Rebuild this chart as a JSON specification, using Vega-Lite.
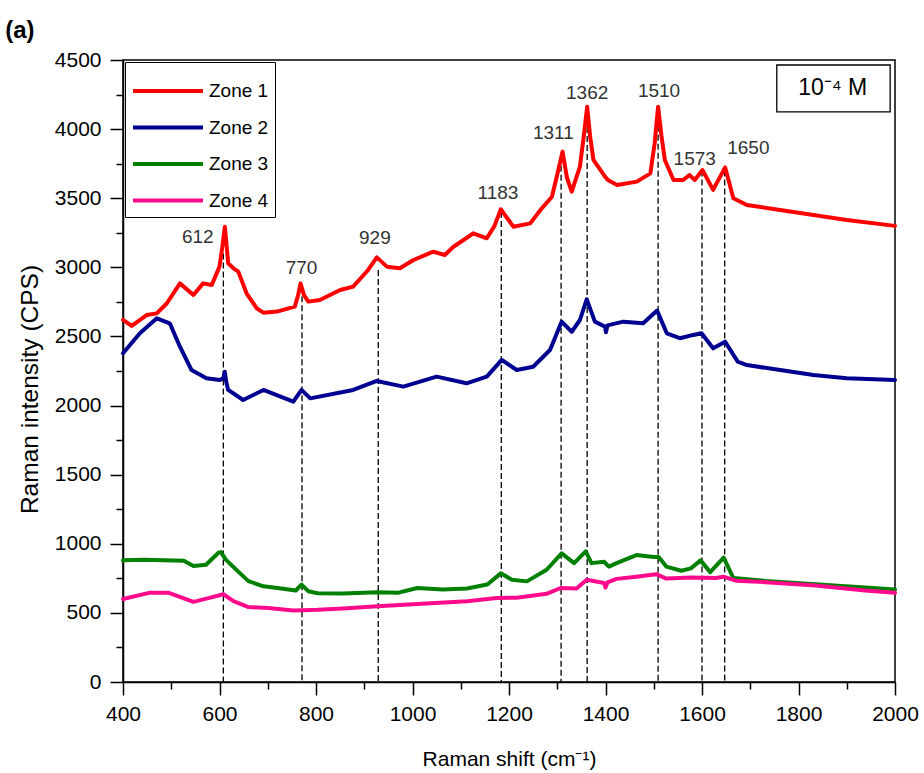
{
  "$schema": "https://vega.github.io/schema/vega-lite/v6.json",
  "width": 772,
  "height": 622,
  "autosize": {"type": "none"},
  "padding": {"left": 123, "top": 60, "right": 29, "bottom": 91},
  "background": "white",
  "title": {"text": "(a)", "anchor": "start", "frame": "bounds", "fontSize": 24, "fontWeight": "bold", "font": "Liberation Sans", "color": "black", "offset": 6, "dx": -12},
  "config": {
    "view": {"stroke": "black", "strokeWidth": 1.5},
    "axis": {"grid": false, "ticks": true, "domainColor": "black", "domainWidth": 1.5, "tickColor": "black", "tickWidth": 1.5, "tickSize": 13, "labelFont": "Liberation Sans", "labelFontSize": 21, "labelColor": "black", "titleFont": "Liberation Sans", "titleFontWeight": "normal", "titleColor": "black", "labelFlush": false, "labelOverlap": false}
  },
  "resolve": {"axis": {"x": "independent", "y": "independent"}},
  "datasets": {
    "spectra": [
      {"zone": "Zone 1", "shift": 400, "intensity": 2620}, {"zone": "Zone 1", "shift": 418, "intensity": 2576}, {"zone": "Zone 1", "shift": 449, "intensity": 2655}, {"zone": "Zone 1", "shift": 470, "intensity": 2667}, {"zone": "Zone 1", "shift": 491, "intensity": 2740}, {"zone": "Zone 1", "shift": 518, "intensity": 2884}, {"zone": "Zone 1", "shift": 546, "intensity": 2800}, {"zone": "Zone 1", "shift": 566, "intensity": 2884}, {"zone": "Zone 1", "shift": 584, "intensity": 2872}, {"zone": "Zone 1", "shift": 600, "intensity": 3005}, {"zone": "Zone 1", "shift": 606, "intensity": 3150}, {"zone": "Zone 1", "shift": 611, "intensity": 3294}, {"zone": "Zone 1", "shift": 615, "intensity": 3150}, {"zone": "Zone 1", "shift": 618, "intensity": 3029}, {"zone": "Zone 1", "shift": 629, "intensity": 2993}, {"zone": "Zone 1", "shift": 639, "intensity": 2969}, {"zone": "Zone 1", "shift": 656, "intensity": 2812}, {"zone": "Zone 1", "shift": 677, "intensity": 2704}, {"zone": "Zone 1", "shift": 691, "intensity": 2672}, {"zone": "Zone 1", "shift": 719, "intensity": 2680}, {"zone": "Zone 1", "shift": 756, "intensity": 2716}, {"zone": "Zone 1", "shift": 763, "intensity": 2800}, {"zone": "Zone 1", "shift": 768, "intensity": 2884}, {"zone": "Zone 1", "shift": 775, "intensity": 2800}, {"zone": "Zone 1", "shift": 784, "intensity": 2752}, {"zone": "Zone 1", "shift": 808, "intensity": 2764}, {"zone": "Zone 1", "shift": 850, "intensity": 2836}, {"zone": "Zone 1", "shift": 877, "intensity": 2860}, {"zone": "Zone 1", "shift": 908, "intensity": 2981}, {"zone": "Zone 1", "shift": 926, "intensity": 3072}, {"zone": "Zone 1", "shift": 947, "intensity": 3005}, {"zone": "Zone 1", "shift": 974, "intensity": 2993}, {"zone": "Zone 1", "shift": 1002, "intensity": 3053}, {"zone": "Zone 1", "shift": 1043, "intensity": 3113}, {"zone": "Zone 1", "shift": 1067, "intensity": 3089}, {"zone": "Zone 1", "shift": 1085, "intensity": 3149}, {"zone": "Zone 1", "shift": 1126, "intensity": 3246}, {"zone": "Zone 1", "shift": 1154, "intensity": 3210}, {"zone": "Zone 1", "shift": 1170, "intensity": 3300}, {"zone": "Zone 1", "shift": 1183, "intensity": 3420}, {"zone": "Zone 1", "shift": 1209, "intensity": 3294}, {"zone": "Zone 1", "shift": 1244, "intensity": 3318}, {"zone": "Zone 1", "shift": 1268, "intensity": 3427}, {"zone": "Zone 1", "shift": 1289, "intensity": 3511}, {"zone": "Zone 1", "shift": 1302, "intensity": 3700}, {"zone": "Zone 1", "shift": 1311, "intensity": 3837}, {"zone": "Zone 1", "shift": 1320, "intensity": 3650}, {"zone": "Zone 1", "shift": 1330, "intensity": 3547}, {"zone": "Zone 1", "shift": 1347, "intensity": 3728}, {"zone": "Zone 1", "shift": 1355, "intensity": 3950}, {"zone": "Zone 1", "shift": 1362, "intensity": 4162}, {"zone": "Zone 1", "shift": 1368, "intensity": 3950}, {"zone": "Zone 1", "shift": 1375, "intensity": 3777}, {"zone": "Zone 1", "shift": 1399, "intensity": 3656}, {"zone": "Zone 1", "shift": 1405, "intensity": 3632}, {"zone": "Zone 1", "shift": 1424, "intensity": 3596}, {"zone": "Zone 1", "shift": 1465, "intensity": 3620}, {"zone": "Zone 1", "shift": 1493, "intensity": 3680}, {"zone": "Zone 1", "shift": 1502, "intensity": 3900}, {"zone": "Zone 1", "shift": 1509, "intensity": 4162}, {"zone": "Zone 1", "shift": 1516, "intensity": 3950}, {"zone": "Zone 1", "shift": 1523, "intensity": 3777}, {"zone": "Zone 1", "shift": 1541, "intensity": 3632}, {"zone": "Zone 1", "shift": 1561, "intensity": 3632}, {"zone": "Zone 1", "shift": 1574, "intensity": 3668}, {"zone": "Zone 1", "shift": 1585, "intensity": 3632}, {"zone": "Zone 1", "shift": 1601, "intensity": 3704}, {"zone": "Zone 1", "shift": 1623, "intensity": 3560}, {"zone": "Zone 1", "shift": 1648, "intensity": 3723}, {"zone": "Zone 1", "shift": 1665, "intensity": 3500}, {"zone": "Zone 1", "shift": 1693, "intensity": 3451}, {"zone": "Zone 1", "shift": 1762, "intensity": 3415}, {"zone": "Zone 1", "shift": 1831, "intensity": 3379}, {"zone": "Zone 1", "shift": 1900, "intensity": 3343}, {"zone": "Zone 1", "shift": 2000, "intensity": 3300},
      {"zone": "Zone 2", "shift": 400, "intensity": 2378}, {"zone": "Zone 2", "shift": 435, "intensity": 2523}, {"zone": "Zone 2", "shift": 470, "intensity": 2631}, {"zone": "Zone 2", "shift": 497, "intensity": 2595}, {"zone": "Zone 2", "shift": 518, "intensity": 2426}, {"zone": "Zone 2", "shift": 542, "intensity": 2257}, {"zone": "Zone 2", "shift": 573, "intensity": 2197}, {"zone": "Zone 2", "shift": 601, "intensity": 2185}, {"zone": "Zone 2", "shift": 608, "intensity": 2200}, {"zone": "Zone 2", "shift": 611, "intensity": 2245}, {"zone": "Zone 2", "shift": 614, "intensity": 2170}, {"zone": "Zone 2", "shift": 618, "intensity": 2113}, {"zone": "Zone 2", "shift": 649, "intensity": 2040}, {"zone": "Zone 2", "shift": 691, "intensity": 2113}, {"zone": "Zone 2", "shift": 753, "intensity": 2028}, {"zone": "Zone 2", "shift": 770, "intensity": 2113}, {"zone": "Zone 2", "shift": 788, "intensity": 2052}, {"zone": "Zone 2", "shift": 877, "intensity": 2113}, {"zone": "Zone 2", "shift": 926, "intensity": 2178}, {"zone": "Zone 2", "shift": 981, "intensity": 2137}, {"zone": "Zone 2", "shift": 1050, "intensity": 2209}, {"zone": "Zone 2", "shift": 1112, "intensity": 2161}, {"zone": "Zone 2", "shift": 1154, "intensity": 2209}, {"zone": "Zone 2", "shift": 1185, "intensity": 2330}, {"zone": "Zone 2", "shift": 1216, "intensity": 2257}, {"zone": "Zone 2", "shift": 1250, "intensity": 2281}, {"zone": "Zone 2", "shift": 1285, "intensity": 2402}, {"zone": "Zone 2", "shift": 1309, "intensity": 2607}, {"zone": "Zone 2", "shift": 1330, "intensity": 2534}, {"zone": "Zone 2", "shift": 1347, "intensity": 2619}, {"zone": "Zone 2", "shift": 1361, "intensity": 2769}, {"zone": "Zone 2", "shift": 1378, "intensity": 2607}, {"zone": "Zone 2", "shift": 1399, "intensity": 2571}, {"zone": "Zone 2", "shift": 1401, "intensity": 2530}, {"zone": "Zone 2", "shift": 1404, "intensity": 2580}, {"zone": "Zone 2", "shift": 1437, "intensity": 2607}, {"zone": "Zone 2", "shift": 1478, "intensity": 2595}, {"zone": "Zone 2", "shift": 1507, "intensity": 2687}, {"zone": "Zone 2", "shift": 1527, "intensity": 2523}, {"zone": "Zone 2", "shift": 1554, "intensity": 2487}, {"zone": "Zone 2", "shift": 1582, "intensity": 2511}, {"zone": "Zone 2", "shift": 1599, "intensity": 2523}, {"zone": "Zone 2", "shift": 1623, "intensity": 2414}, {"zone": "Zone 2", "shift": 1648, "intensity": 2462}, {"zone": "Zone 2", "shift": 1674, "intensity": 2318}, {"zone": "Zone 2", "shift": 1693, "intensity": 2293}, {"zone": "Zone 2", "shift": 1762, "intensity": 2257}, {"zone": "Zone 2", "shift": 1831, "intensity": 2221}, {"zone": "Zone 2", "shift": 1900, "intensity": 2197}, {"zone": "Zone 2", "shift": 2000, "intensity": 2185},
      {"zone": "Zone 3", "shift": 400, "intensity": 880}, {"zone": "Zone 3", "shift": 443, "intensity": 885}, {"zone": "Zone 3", "shift": 526, "intensity": 878}, {"zone": "Zone 3", "shift": 546, "intensity": 840}, {"zone": "Zone 3", "shift": 572, "intensity": 848}, {"zone": "Zone 3", "shift": 598, "intensity": 935}, {"zone": "Zone 3", "shift": 603, "intensity": 940}, {"zone": "Zone 3", "shift": 613, "intensity": 885}, {"zone": "Zone 3", "shift": 634, "intensity": 815}, {"zone": "Zone 3", "shift": 660, "intensity": 730}, {"zone": "Zone 3", "shift": 691, "intensity": 692}, {"zone": "Zone 3", "shift": 732, "intensity": 675}, {"zone": "Zone 3", "shift": 758, "intensity": 662}, {"zone": "Zone 3", "shift": 770, "intensity": 705}, {"zone": "Zone 3", "shift": 784, "intensity": 657}, {"zone": "Zone 3", "shift": 804, "intensity": 642}, {"zone": "Zone 3", "shift": 856, "intensity": 640}, {"zone": "Zone 3", "shift": 928, "intensity": 650}, {"zone": "Zone 3", "shift": 969, "intensity": 645}, {"zone": "Zone 3", "shift": 1010, "intensity": 680}, {"zone": "Zone 3", "shift": 1062, "intensity": 670}, {"zone": "Zone 3", "shift": 1113, "intensity": 676}, {"zone": "Zone 3", "shift": 1155, "intensity": 705}, {"zone": "Zone 3", "shift": 1183, "intensity": 786}, {"zone": "Zone 3", "shift": 1206, "intensity": 740}, {"zone": "Zone 3", "shift": 1237, "intensity": 728}, {"zone": "Zone 3", "shift": 1278, "intensity": 812}, {"zone": "Zone 3", "shift": 1309, "intensity": 930}, {"zone": "Zone 3", "shift": 1335, "intensity": 860}, {"zone": "Zone 3", "shift": 1359, "intensity": 945}, {"zone": "Zone 3", "shift": 1371, "intensity": 860}, {"zone": "Zone 3", "shift": 1397, "intensity": 870}, {"zone": "Zone 3", "shift": 1407, "intensity": 835}, {"zone": "Zone 3", "shift": 1423, "intensity": 860}, {"zone": "Zone 3", "shift": 1464, "intensity": 918}, {"zone": "Zone 3", "shift": 1500, "intensity": 905}, {"zone": "Zone 3", "shift": 1510, "intensity": 905}, {"zone": "Zone 3", "shift": 1526, "intensity": 835}, {"zone": "Zone 3", "shift": 1557, "intensity": 805}, {"zone": "Zone 3", "shift": 1577, "intensity": 822}, {"zone": "Zone 3", "shift": 1597, "intensity": 880}, {"zone": "Zone 3", "shift": 1617, "intensity": 795}, {"zone": "Zone 3", "shift": 1645, "intensity": 900}, {"zone": "Zone 3", "shift": 1665, "intensity": 752}, {"zone": "Zone 3", "shift": 1732, "intensity": 731}, {"zone": "Zone 3", "shift": 1835, "intensity": 707}, {"zone": "Zone 3", "shift": 1938, "intensity": 683}, {"zone": "Zone 3", "shift": 2000, "intensity": 670},
      {"zone": "Zone 4", "shift": 400, "intensity": 600}, {"zone": "Zone 4", "shift": 454, "intensity": 645}, {"zone": "Zone 4", "shift": 495, "intensity": 645}, {"zone": "Zone 4", "shift": 546, "intensity": 580}, {"zone": "Zone 4", "shift": 577, "intensity": 607}, {"zone": "Zone 4", "shift": 608, "intensity": 635}, {"zone": "Zone 4", "shift": 629, "intensity": 585}, {"zone": "Zone 4", "shift": 660, "intensity": 542}, {"zone": "Zone 4", "shift": 701, "intensity": 536}, {"zone": "Zone 4", "shift": 753, "intensity": 518}, {"zone": "Zone 4", "shift": 804, "intensity": 522}, {"zone": "Zone 4", "shift": 856, "intensity": 532}, {"zone": "Zone 4", "shift": 928, "intensity": 548}, {"zone": "Zone 4", "shift": 1010, "intensity": 565}, {"zone": "Zone 4", "shift": 1113, "intensity": 584}, {"zone": "Zone 4", "shift": 1175, "intensity": 608}, {"zone": "Zone 4", "shift": 1216, "intensity": 610}, {"zone": "Zone 4", "shift": 1278, "intensity": 638}, {"zone": "Zone 4", "shift": 1307, "intensity": 680}, {"zone": "Zone 4", "shift": 1340, "intensity": 676}, {"zone": "Zone 4", "shift": 1361, "intensity": 740}, {"zone": "Zone 4", "shift": 1397, "intensity": 716}, {"zone": "Zone 4", "shift": 1400, "intensity": 683}, {"zone": "Zone 4", "shift": 1404, "intensity": 720}, {"zone": "Zone 4", "shift": 1423, "intensity": 746}, {"zone": "Zone 4", "shift": 1464, "intensity": 762}, {"zone": "Zone 4", "shift": 1505, "intensity": 780}, {"zone": "Zone 4", "shift": 1526, "intensity": 748}, {"zone": "Zone 4", "shift": 1577, "intensity": 756}, {"zone": "Zone 4", "shift": 1629, "intensity": 752}, {"zone": "Zone 4", "shift": 1644, "intensity": 762}, {"zone": "Zone 4", "shift": 1670, "intensity": 733}, {"zone": "Zone 4", "shift": 1732, "intensity": 722}, {"zone": "Zone 4", "shift": 1835, "intensity": 698}, {"zone": "Zone 4", "shift": 1938, "intensity": 662}, {"zone": "Zone 4", "shift": 2000, "intensity": 645}
    ],
    "peaks": [
      {"label": "612", "line": 608, "top": 3100, "tx": 555, "ty": 3220},
      {"label": "770", "line": 771, "top": 2790, "tx": 770, "ty": 2993},
      {"label": "929", "line": 929, "top": 2980, "tx": 922, "ty": 3210},
      {"label": "1183", "line": 1184, "top": 3400, "tx": 1177, "ty": 3540},
      {"label": "1311", "line": 1308, "top": 3800, "tx": 1292, "ty": 3974},
      {"label": "1362", "line": 1362, "top": 4080, "tx": 1362, "ty": 4264},
      {"label": "1510", "line": 1509, "top": 4090, "tx": 1511, "ty": 4278},
      {"label": "1573", "line": 1600, "top": 3700, "tx": 1585, "ty": 3784},
      {"label": "1650", "line": 1647, "top": 3700, "tx": 1696, "ty": 3861}
    ],
    "conc": [
      {"text": "10⁻⁴ M", "x1": 1755, "x2": 1990, "y1": 4124, "y2": 4464, "tx": 1871, "ty": 4297}
    ]
  },
  "layer": [
    {
      "data": {"name": "peaks"},
      "mark": {"type": "rule", "color": "black", "strokeWidth": 1.3, "strokeDash": [6, 3]},
      "encoding": {
        "x": {"field": "line", "type": "quantitative", "scale": {"domain": [400, 2000], "nice": false, "zero": false},
          "axis": {"orient": "bottom", "values": [400, 600, 800, 1000, 1200, 1400, 1600, 1800, 2000], "format": "d", "labelPadding": 8, "title": "Raman shift (cm⁻¹)", "titleFontSize": 21, "titlePadding": 24}},
        "y": {"field": "top", "type": "quantitative", "scale": {"domain": [0, 4500], "nice": false},
          "axis": {"orient": "left", "values": [0, 500, 1000, 1500, 2000, 2500, 3000, 3500, 4000, 4500], "format": "d", "labelPadding": 9, "title": "Raman intensity (CPS)", "titleFontSize": 24.5, "titlePadding": 12, "titleY": 329}},
        "y2": {"datum": 0}
      }
    },
    {
      "data": {"name": "spectra"},
      "mark": {"type": "line", "strokeWidth": 4, "strokeJoin": "round", "strokeCap": "round"},
      "encoding": {
        "x": {"field": "shift", "type": "quantitative",
          "axis": {"orient": "bottom", "values": [500, 700, 900, 1100, 1300, 1500, 1700, 1900], "tickSize": 7, "labels": false, "domain": false, "title": null}},
        "y": {"field": "intensity", "type": "quantitative",
          "axis": {"orient": "left", "values": [250, 750, 1250, 1750, 2250, 2750, 3250, 3750, 4250], "tickSize": 7, "labels": false, "domain": false, "title": null}},
        "color": {"field": "zone", "type": "nominal",
          "scale": {"domain": ["Zone 1", "Zone 2", "Zone 3", "Zone 4"], "range": ["#ff0000", "#000090", "#008000", "#ff0a8c"]},
          "legend": {"orient": "top-left", "offset": 2, "title": " ", "titleFontSize": 10, "titlePadding": 3, "symbolType": "stroke", "symbolSize": 4900, "symbolStrokeWidth": 4, "clipHeight": 20, "rowPadding": 16.5, "padding": 6, "labelFontSize": 19, "labelFont": "Liberation Sans", "labelColor": "black", "labelOffset": 4, "strokeColor": "black", "fillColor": "white", "symbolOffset": 0}},
        "order": {"field": "shift", "type": "quantitative"}
      }
    },
    {
      "data": {"name": "peaks"},
      "mark": {"type": "text", "font": "Liberation Sans", "fontSize": 19, "color": "#333333", "baseline": "middle", "align": "center"},
      "encoding": {
        "x": {"field": "tx", "type": "quantitative", "axis": null},
        "y": {"field": "ty", "type": "quantitative", "axis": null},
        "text": {"field": "label"}
      }
    },
    {
      "data": {"name": "conc"},
      "mark": {"type": "rect", "fill": "white", "stroke": "black", "strokeWidth": 1.3},
      "encoding": {
        "x": {"field": "x1", "type": "quantitative", "axis": null},
        "x2": {"field": "x2"},
        "y": {"field": "y1", "type": "quantitative", "axis": null},
        "y2": {"field": "y2"}
      }
    },
    {
      "data": {"name": "conc"},
      "mark": {"type": "text", "font": "Liberation Sans", "fontSize": 23, "color": "black", "baseline": "middle", "align": "center"},
      "encoding": {
        "x": {"field": "tx", "type": "quantitative", "axis": null},
        "y": {"field": "ty", "type": "quantitative", "axis": null},
        "text": {"field": "text"}
      }
    }
  ]
}
